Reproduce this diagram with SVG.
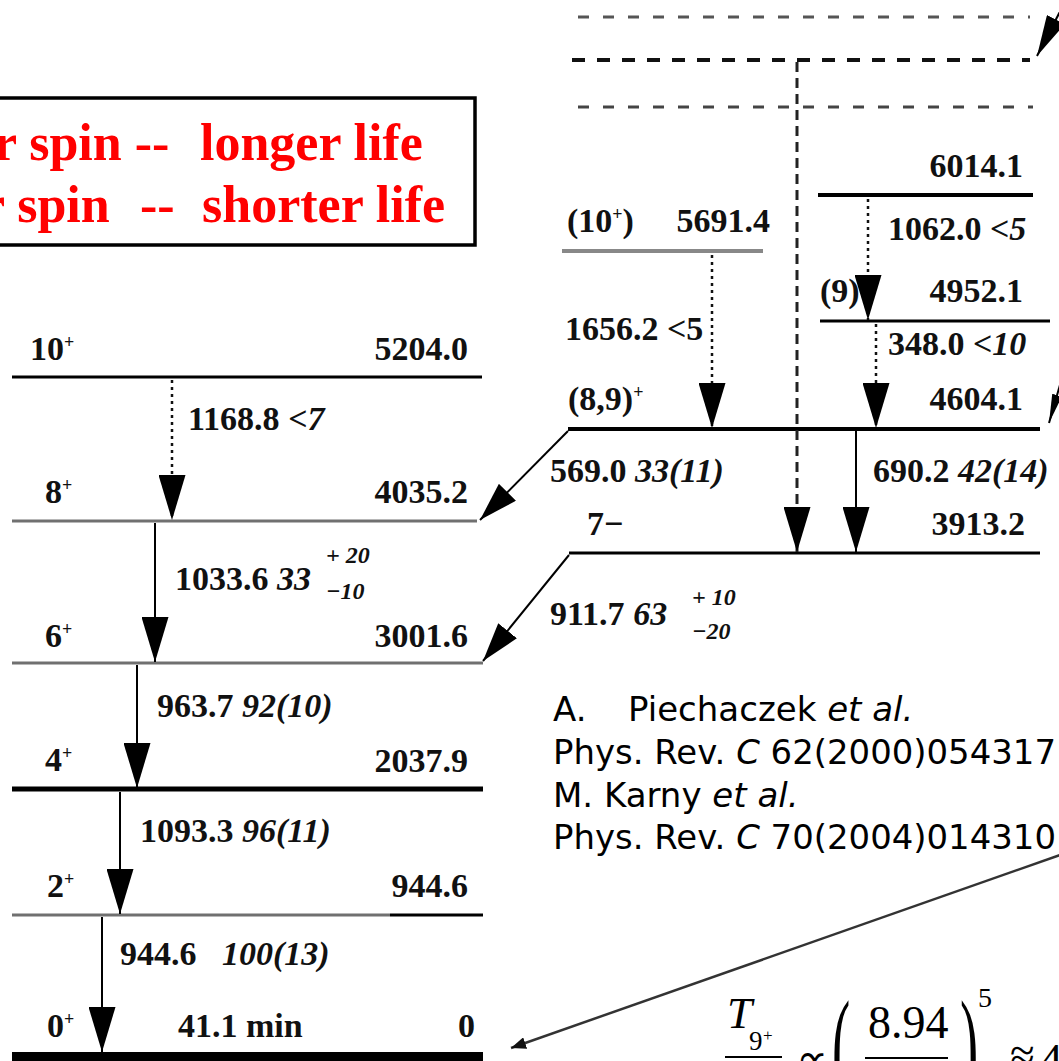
<svg xmlns="http://www.w3.org/2000/svg" width="1059" height="1061" viewBox="0 0 1059 1061">
<style>
.lv{font-family:"Liberation Serif","Times New Roman",serif;font-weight:bold;font-size:34px;fill:#111}
.it{font-style:italic}
.sm{font-size:24px}
.sup{font-size:18px}
.lvl{stroke:#000;stroke-width:3;fill:none}
.gry{stroke:#707070}
.sol{stroke:#000;stroke-width:2;fill:none}
.dot{stroke:#111;stroke-width:2.5;stroke-dasharray:3 4;fill:none}
.dsh{stroke:#222;stroke-width:3;stroke-dasharray:10 6;fill:none}
.red{font-family:"Liberation Serif","Times New Roman",serif;font-weight:bold;font-size:52px;fill:#ff0000}
.cit{font-family:"DejaVu Sans",sans-serif;font-size:34px;fill:#000}
.mth{font-family:"Liberation Serif","Times New Roman",serif;fill:#000}
</style>
<defs>
<marker id="ah" markerUnits="userSpaceOnUse" markerWidth="46" markerHeight="27" refX="45" refY="13.5" orient="auto"><path d="M0,0 L45,13.5 L0,27 z" fill="#000"/></marker>
<marker id="ad" markerUnits="userSpaceOnUse" markerWidth="40" markerHeight="24" refX="39" refY="12" orient="auto"><path d="M0,0 L39,12 L0,24 z" fill="#000"/></marker>
<marker id="aw" markerUnits="userSpaceOnUse" markerWidth="42" markerHeight="20" refX="41" refY="10" orient="auto"><path d="M0,0 L41,10 L0,20 z" fill="#000"/></marker>
<marker id="as" markerUnits="userSpaceOnUse" markerWidth="30" markerHeight="10" refX="29" refY="5" orient="auto"><path d="M0,0 L29,5 L0,10 z" fill="#000"/></marker>
<marker id="at" markerUnits="userSpaceOnUse" markerWidth="16" markerHeight="12" refX="15" refY="6" orient="auto"><path d="M0,0 L15,6 L0,12 z" fill="#111"/></marker>
</defs>
<rect width="1059" height="1061" fill="#fff"/>

<g id="legend-box">
<rect x="-10" y="98" width="485" height="147" fill="#fff" stroke="#000" stroke-width="3.5"/>
<text class="red" y="160"><tspan x="-6">r spin --</tspan><tspan x="200">longer life</tspan></text>
<text class="red" y="222"><tspan x="-18">r spin</tspan><tspan x="140">--</tspan><tspan x="202">shorter life</tspan></text>
</g>

<!-- left scheme levels -->
<g id="level-10plus">
<line class="lvl" x1="12" y1="377" x2="482" y2="377"/>
<text class="lv" x="30" y="360">10<tspan class="sup" dy="-12">+</tspan></text>
<text class="lv" x="468" y="360" text-anchor="end">5204.0</text>
</g>
<g id="level-8plus">
<line class="lvl gry" x1="12" y1="521" x2="477" y2="521"/>
<text class="lv" x="45" y="503">8<tspan class="sup" dy="-12">+</tspan></text>
<text class="lv" x="468" y="503" text-anchor="end">4035.2</text>
</g>
<g id="level-6plus">
<line class="lvl gry" x1="12" y1="663" x2="483" y2="663"/>
<text class="lv" x="45" y="647">6<tspan class="sup" dy="-12">+</tspan></text>
<text class="lv" x="468" y="647" text-anchor="end">3001.6</text>
</g>
<g id="level-4plus">
<line class="lvl" style="stroke-width:5" x1="12" y1="789" x2="483" y2="789"/>
<text class="lv" x="45" y="771">4<tspan class="sup" dy="-12">+</tspan></text>
<text class="lv" x="468" y="772" text-anchor="end">2037.9</text>
</g>
<g id="level-2plus">
<line class="lvl gry" x1="12" y1="915" x2="390" y2="915"/>
<line class="lvl" x1="390" y1="915" x2="483" y2="915"/>
<text class="lv" x="47" y="897">2<tspan class="sup" dy="-12">+</tspan></text>
<text class="lv" x="468" y="897" text-anchor="end">944.6</text>
</g>
<g id="level-0plus">
<line class="lvl" style="stroke-width:10" x1="12" y1="1057" x2="483" y2="1057"/>
<text class="lv" x="47" y="1037">0<tspan class="sup" dy="-12">+</tspan></text>
<text class="lv" x="178" y="1037">41.1 min</text>
<text class="lv" x="475" y="1037" text-anchor="end">0</text>
</g>

<!-- right scheme levels -->
<g id="upper-levels">
<line x1="578" y1="17" x2="1030" y2="17" stroke="#555" stroke-width="3" stroke-dasharray="11 14"/>
<line x1="572" y1="60" x2="1030" y2="60" stroke="#111" stroke-width="4" stroke-dasharray="13 12"/>
<line x1="578" y1="107" x2="1033" y2="107" stroke="#444" stroke-width="3" stroke-dasharray="11 14"/>
</g>
<g id="level-6014">
<line class="lvl" style="stroke-width:4" x1="818" y1="195" x2="1033" y2="195"/>
<text class="lv" x="1023" y="177" text-anchor="end">6014.1</text>
</g>
<g id="level-5691">
<line class="lvl" style="stroke:#888;stroke-width:4" x1="562" y1="251" x2="763" y2="251"/>
<text class="lv" x="567" y="232">(10<tspan class="sup" dy="-12">+</tspan><tspan dy="12">)</tspan></text>
<text class="lv" x="770" y="232" text-anchor="end">5691.4</text>
</g>
<g id="level-4952">
<line class="lvl" x1="820" y1="321" x2="1050" y2="321"/>
<text class="lv" x="820" y="302">(9)</text>
<text class="lv" x="1023" y="302" text-anchor="end">4952.1</text>
</g>
<g id="level-4604">
<line class="lvl" style="stroke-width:4" x1="568" y1="429" x2="1040" y2="429"/>
<text class="lv" x="568" y="410">(8,9)<tspan class="sup" dy="-12">+</tspan></text>
<text class="lv" x="1023" y="410" text-anchor="end">4604.1</text>
</g>
<g id="level-3913">
<line class="lvl" x1="569" y1="553" x2="1040" y2="553"/>
<text class="lv" x="587" y="535">7−</text>
<text class="lv" x="1025" y="535" text-anchor="end">3913.2</text>
</g>

<g id="connectors">
<!-- left cascade -->
<line class="dot" x1="172" y1="380" x2="172" y2="520" marker-end="url(#ah)"/>
<line class="sol" x1="155" y1="523" x2="155" y2="662" marker-end="url(#ah)"/>
<line class="sol" x1="137" y1="665" x2="137" y2="788" marker-end="url(#ah)"/>
<line class="sol" x1="120" y1="792" x2="120" y2="914" marker-end="url(#ah)"/>
<line class="sol" x1="102" y1="917" x2="102" y2="1052" marker-end="url(#ah)"/>
<!-- right -->
<line class="dsh" x1="797" y1="62" x2="797" y2="552" marker-end="url(#ah)"/>
<line class="dot" x1="868" y1="199" x2="868" y2="320" marker-end="url(#ah)"/>
<line class="dot" x1="712" y1="255" x2="712" y2="428" marker-end="url(#ah)"/>
<line class="dot" x1="876" y1="324" x2="876" y2="428" marker-end="url(#ah)"/>
<line class="sol" x1="856" y1="431" x2="856" y2="552" marker-end="url(#ah)"/>
<line class="sol" x1="568" y1="431" x2="480" y2="520" marker-end="url(#ad)"/>
<line class="sol" x1="569" y1="555" x2="483" y2="661" marker-end="url(#ad)"/>
<line class="sol" x1="1066" y1="0" x2="1037" y2="56" marker-end="url(#aw)"/>
<line class="sol" x1="1062" y1="378" x2="1049" y2="423" marker-end="url(#as)"/>
<line x1="1060" y1="855" x2="511" y2="1048" stroke="#333" stroke-width="2.5" marker-end="url(#at)"/>
<!-- transition labels -->
<text class="lv" x="188" y="430">1168.8 <tspan class="it">&lt;7</tspan></text>
<text class="lv" x="175" y="590">1033.6 <tspan class="it">33</tspan></text>
<text class="lv it sm" x="326" y="563">+ 20</text>
<text class="lv it sm" x="326" y="599">−10</text>
<text class="lv" x="157" y="717">963.7 <tspan class="it">92(10)</tspan></text>
<text class="lv" x="140" y="842">1093.3 <tspan class="it">96(11)</tspan></text>
<text class="lv" x="120" y="965">944.6</text>
<text class="lv it" x="222" y="965">100(13)</text>
<text class="lv" x="888" y="240">1062.0 <tspan class="it">&lt;5</tspan></text>
<text class="lv" x="565" y="340">1656.2 &lt;5</text>
<text class="lv" x="888" y="355">348.0 <tspan class="it">&lt;10</tspan></text>
<text class="lv" x="550" y="482">569.0 <tspan class="it">33(11)</tspan></text>
<text class="lv" x="873" y="482">690.2 <tspan class="it">42(14)</tspan></text>
<text class="lv" x="550" y="625">911.7 <tspan class="it">63</tspan></text>
<text class="lv it sm" x="692" y="605">+ 10</text>
<text class="lv it sm" x="692" y="639">−20</text>
</g>

<g id="references">
<text class="cit" y="721"><tspan x="553">A.</tspan><tspan x="628">Piechaczek </tspan><tspan font-style="italic">et al.</tspan></text>
<text class="cit" x="553" y="764" textLength="503" lengthAdjust="spacingAndGlyphs">Phys. Rev. <tspan font-style="italic">C</tspan> 62(2000)054317</text>
<text class="cit" x="553" y="807">M. Karny <tspan font-style="italic">et al.</tspan></text>
<text class="cit" x="553" y="849" textLength="503" lengthAdjust="spacingAndGlyphs">Phys. Rev. <tspan font-style="italic">C</tspan> 70(2004)014310</text>
</g>

<g id="formula" class="mth">
<text x="727" y="1028" font-size="45" font-style="italic">T</text>
<text x="749" y="1050" font-size="27">9</text>
<text x="763" y="1041" font-size="17">+</text>
<line x1="725" y1="1057" x2="782" y2="1057" stroke="#000" stroke-width="2"/>
<text x="796" y="1075" font-size="45">∝</text>
<text transform="translate(832,1090) scale(0.42,1)" font-size="130">(</text>
<text x="868" y="1038" font-size="46">8.94</text>
<line x1="865" y1="1058" x2="948" y2="1058" stroke="#000" stroke-width="2"/>
<text transform="translate(960,1090) scale(0.42,1)" font-size="130">)</text>
<text x="978" y="1007" font-size="28">5</text>
<text x="1010" y="1070" font-size="45">≈</text>
<text x="1040" y="1074" font-size="45">4</text>
</g>
</svg>
